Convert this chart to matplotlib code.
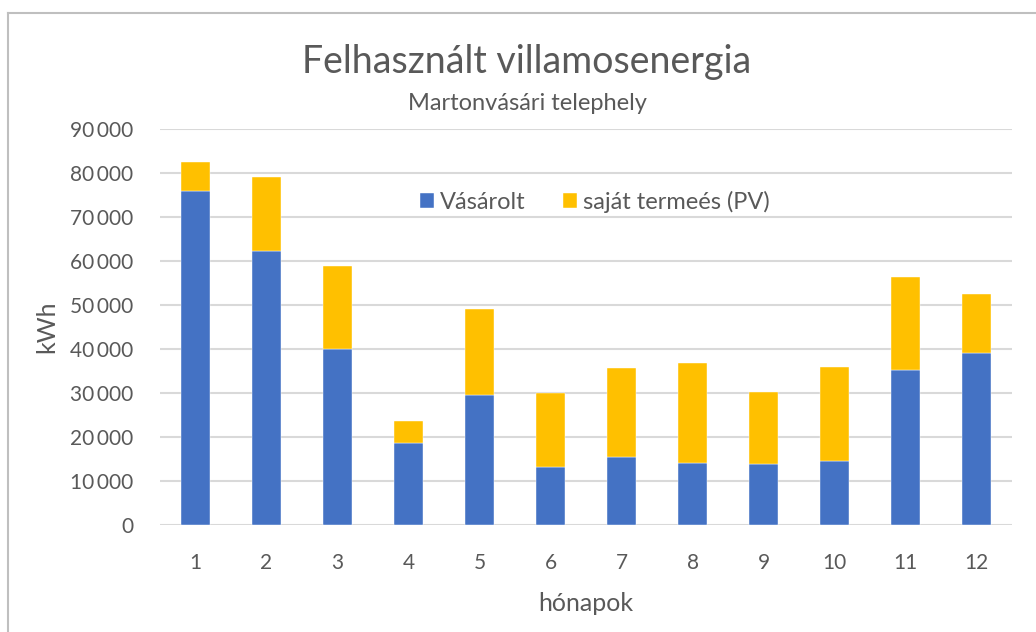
import matplotlib
matplotlib.use("Agg")
import matplotlib.pyplot as plt
from matplotlib.lines import Line2D
from matplotlib.ticker import FuncFormatter, MultipleLocator

plt.rcParams['font.family'] = ['Lato', 'DejaVu Sans']

months = [str(i) for i in range(1, 13)]
vasarolt = [75900, 62300, 39900, 18700, 29600, 13100, 15400, 14100, 13800, 14500, 35300, 39200]
sajat_pv = [6500, 16800, 19000, 4900, 19500, 16800, 20200, 22800, 16400, 21300, 21100, 13200]

title = "Felhasznált villamosenergia"
subtitle = "Martonvásári telephely"
series_names = ["Vásárolt", "saját termeés (PV)"]
colors = ["#4472C4", "#FFC000"]
text_color = "#595959"

W, H = 1036, 632
fig = plt.figure(figsize=(W / 100, H / 100), dpi=100)
ax = fig.add_axes([160 / W, (H - 525) / H, (1012 - 160) / W, (525 - 129) / H])

x = list(range(1, 13))
ax.bar(x, vasarolt, width=0.4, color=colors[0], label=series_names[0], zorder=3,
       edgecolor="white", linewidth=0.3)
ax.bar(x, sajat_pv, width=0.4, bottom=vasarolt, color=colors[1], label=series_names[1], zorder=3,
       edgecolor="white", linewidth=0.3)

ax.set_xlim(0.5, 12.5)
ax.set_ylim(0, 90000)
ax.yaxis.set_major_locator(MultipleLocator(10000))
ax.yaxis.set_major_formatter(FuncFormatter(lambda v, p: f"{int(v):,}".replace(",", "\u2009")))
ax.set_xticks(x)
ax.set_xticklabels(months)
ax.grid(axis="y", color="#D9D9D9", linewidth=1.5, zorder=0)
for s in ax.spines.values():
    s.set_visible(False)
ax.tick_params(axis="both", length=0, labelsize=15, colors=text_color)
ax.tick_params(axis="x", pad=20)
ax.tick_params(axis="y", pad=19)

ax.set_xlabel("hónapok", fontsize=18, color=text_color, labelpad=14)
ax.set_ylabel("kWh", fontsize=18, color=text_color, labelpad=9)

fig.text(527 / W, 1 - 62 / H, title, ha="center", va="center", fontsize=27, color=text_color)
fig.text(527 / W, 1 - 103 / H, subtitle, ha="center", va="center", fontsize=17, color=text_color)

leg = ax.legend(loc="center", bbox_to_anchor=((595 - 160) / (1012 - 160), (525 - 202) / (525 - 129)),
                ncol=2, frameon=False, fontsize=17, handlelength=0.6, handleheight=0.6,
                handletextpad=0.25, columnspacing=1.6, labelcolor=text_color)

# chart area border (top and left visible)
fig.add_artist(Line2D([8 / W, 1], [1 - 13 / H, 1 - 13 / H], color="#BFBFBF", linewidth=1.5))
fig.add_artist(Line2D([8 / W, 8 / W], [0, 1 - 13 / H], color="#BFBFBF", linewidth=1.5))

fig.savefig("out.png", dpi=100, facecolor="white")
